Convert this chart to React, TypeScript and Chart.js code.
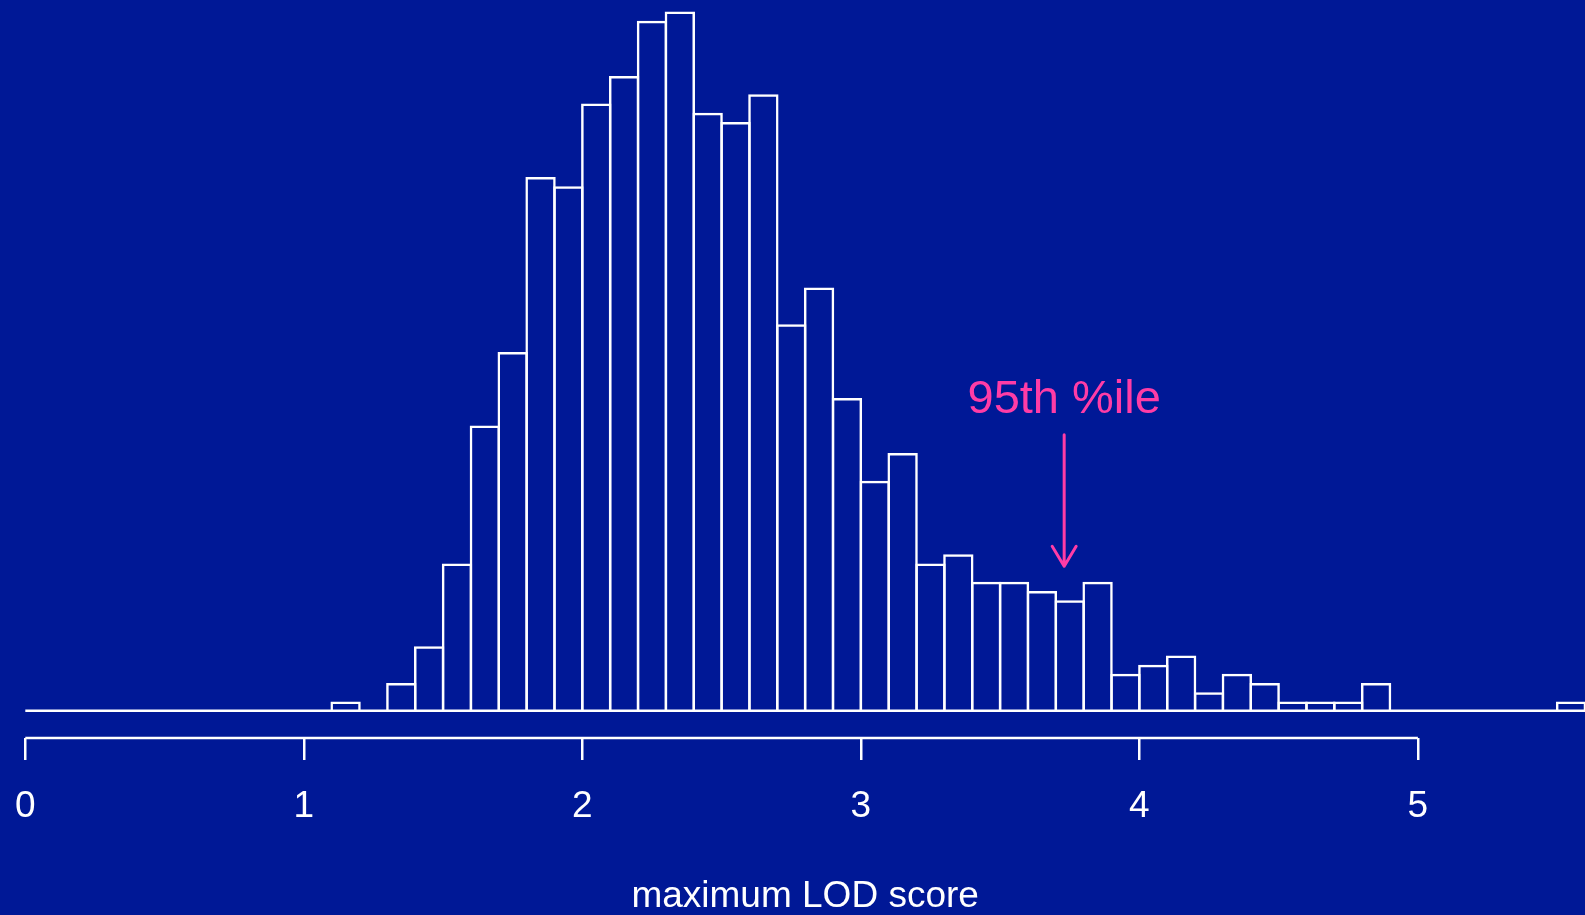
import React, { useEffect, useRef } from "react";
import { Chart, registerables } from "chart.js";

Chart.register(...registerables);

// ---- data ----
const BIN_LEFT = [
  1.1, 1.2, 1.3, 1.4, 1.5, 1.6, 1.7, 1.8, 1.9, 2.0,
  2.1, 2.2, 2.3, 2.4, 2.5, 2.6, 2.7, 2.8, 2.9, 3.0,
  3.1, 3.2, 3.3, 3.4, 3.5, 3.6, 3.7, 3.8, 3.9, 4.0,
  4.1, 4.2, 4.3, 4.4, 4.5, 4.6, 4.7, 4.8, 4.9, 5.0,
  5.1, 5.2, 5.3, 5.4, 5.5,
];
const BIN_WIDTH = 0.1;
const COUNTS = [
  1, 0, 3, 7, 16, 31, 39, 58, 57, 66,
  69, 75, 76, 65, 64, 67, 42, 46, 34, 25,
  28, 16, 17, 14, 14, 13, 12, 14, 4, 5,
  6, 2, 4, 3, 1, 1, 1, 3, 0, 0,
  0, 0, 0, 0, 1,
];
const X_TICKS = [0, 1, 2, 3, 4, 5];
const X_TITLE = "maximum LOD score";
const PCT95 = 3.73;
const PCT_LABEL = "95th %ile";

// ---- layout / style constants ----
const W = 1585;
const H = 915;
const X_MIN = 0;
const X_MAX = 5.6;
const AXIS_END = 5;
const Y_MIN = -2.97;
const Y_MAX = 77.25;
const LABEL_Y = 33.8;
const ARROW_FROM = 30.0;
const ARROW_TO = 15.7;
const BG = "#001896";
const FG = "#ffffff";
const PINK = "#ff3ca6";
const LW = 2.5;
const FONT = '"Liberation Sans", Arial, Helvetica, sans-serif';

const bgPlugin = {
  id: "bgFill",
  beforeDraw(chart: any) {
    const { ctx, width, height } = chart;
    ctx.save();
    ctx.fillStyle = BG;
    ctx.fillRect(0, 0, width, height);
    ctx.restore();
  },
};

const annotPlugin = {
  id: "pctAnnot",
  afterDatasetsDraw(chart: any) {
    const { ctx } = chart;
    const xs = chart.scales.x;
    const ys = chart.scales.y;
    const px = xs.getPixelForValue(PCT95);
    ctx.save();
    ctx.fillStyle = PINK;
    ctx.font = `47px ${FONT}`;
    ctx.textAlign = "center";
    ctx.textBaseline = "middle";
    ctx.fillText(PCT_LABEL, px, ys.getPixelForValue(LABEL_Y));
    const y0 = ys.getPixelForValue(ARROW_FROM);
    const y1 = ys.getPixelForValue(ARROW_TO);
    ctx.strokeStyle = PINK;
    ctx.lineWidth = 3;
    ctx.lineCap = "round";
    ctx.lineJoin = "round";
    ctx.beginPath();
    ctx.moveTo(px, y0);
    ctx.lineTo(px, y1);
    ctx.moveTo(px - 12, y1 - 20);
    ctx.lineTo(px, y1);
    ctx.lineTo(px + 12, y1 - 20);
    ctx.stroke();
    ctx.restore();
  },
};

export default function App() {
  const ref = useRef<HTMLCanvasElement | null>(null);

  useEffect(() => {
    if (!ref.current) return;
    const binPx = 27.85;
    const chart = new Chart(ref.current, {
      type: "bar",
      data: {
        datasets: [
          {
            type: "bar",
            data: BIN_LEFT.map((b, i) => ({ x: b + BIN_WIDTH / 2, y: COUNTS[i] })),
            backgroundColor: "rgba(0,0,0,0)",
            borderColor: FG,
            borderWidth: LW,
            borderSkipped: "start",
            inflateAmount: 0,
            barPercentage: (binPx + LW) / binPx,
            categoryPercentage: 1,
            order: 2,
          } as any,
          {
            type: "line",
            data: [
              { x: X_MIN, y: 0 },
              { x: X_MAX, y: 0 },
            ],
            borderColor: FG,
            borderWidth: LW,
            pointRadius: 0,
            clip: false,
            order: 1,
          } as any,
          {
            type: "line",
            data: [
              { x: X_MIN, y: Y_MIN },
              { x: AXIS_END, y: Y_MIN },
            ],
            borderColor: FG,
            borderWidth: LW,
            borderCapStyle: "butt",
            pointRadius: 0,
            clip: false,
            order: 1,
          } as any,
        ],
      },
      options: {
        animation: false,
        responsive: false,
        maintainAspectRatio: false,
        layout: { padding: 0 },
        plugins: {
          legend: { display: false },
          tooltip: { enabled: false },
          title: {
            display: true,
            text: X_TITLE,
            position: "bottom",
            fullSize: false,
            color: FG,
            font: { family: FONT, size: 37, weight: "normal", lineHeight: 1.0 },
            padding: { top: 25, bottom: 0 },
          },
        },
        scales: {
          x: {
            type: "linear",
            min: X_MIN,
            max: X_MAX,
            bounds: "data",
            offset: false,
            afterBuildTicks: (s: any) => {
              s.ticks = X_TICKS.map((v) => ({ value: v }));
            },
            grid: {
              display: true,
              offset: false,
              drawOnChartArea: false,
              drawTicks: true,
              tickLength: 22,
              color: FG,
              lineWidth: LW,
            },
            border: { display: false },
            ticks: {
              color: FG,
              padding: 0,
              maxRotation: 0,
              autoSkip: false,
              font: { family: FONT, size: 37, lineHeight: 2.514 },
            },
          },
          y: {
            type: "linear",
            min: Y_MIN,
            max: Y_MAX,
            bounds: "data",
            grid: { display: false },
            border: { display: false },
            ticks: { display: false },
            afterFit: (s: any) => {
              s.width = 25.3;
            },
          },
        },
      } as any,
      plugins: [bgPlugin, annotPlugin],
    });
    return () => chart.destroy();
  }, []);

  return (
    <div
      style={{
        position: "fixed",
        left: 0,
        top: 0,
        width: W,
        height: H,
        background: BG,
        overflow: "hidden",
      }}
    >
      <canvas ref={ref} width={W} height={H} style={{ display: "block", width: W, height: H }} />
    </div>
  );
}
